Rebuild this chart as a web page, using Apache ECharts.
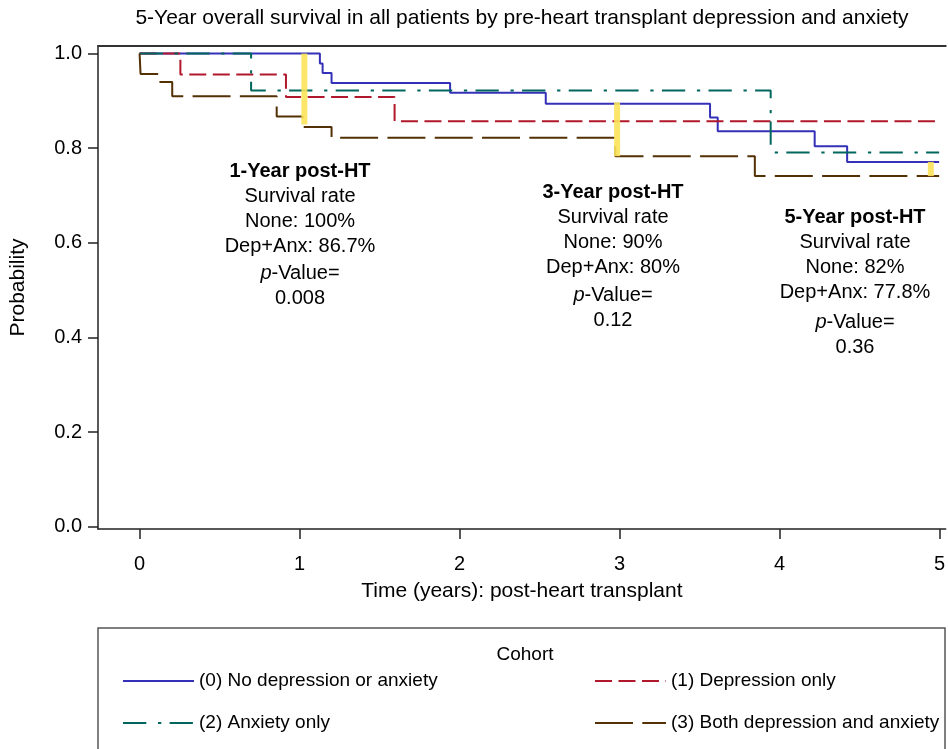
<!DOCTYPE html>
<html>
<head>
<meta charset="utf-8">
<script src="https://cdn.jsdelivr.net/npm/echarts@6/dist/echarts.min.js"></script>
<style>
  html, body { margin: 0; padding: 0; background: #fff; }
  #main { width: 948px; height: 749px; }
</style>
</head>
<body>
<div id="main"></div>
<script>
// Kaplan-Meier curves: [time (years), survival probability]
var cohortNames = ['(0) No depression or anxiety', '(1) Depression only', '(2) Anxiety only', '(3) Both depression and anxiety'];
var noneCurve = [[0, 1], [1.127, 0.979], [1.144, 0.959], [1.2, 0.938], [1.941, 0.917], [2.539, 0.894],
	[3.566, 0.865], [3.614, 0.836], [4.22, 0.804], [4.423, 0.771], [4.998, 0.771]];
var depCurve = [[0, 1], [0.255, 0.956], [0.915, 0.908], [1.594, 0.857], [4.998, 0.857]];
var anxCurve = [[0, 1], [0.697, 0.922], [3.945, 0.791], [4.998, 0.791]];
var bothCurve = [[0, 1], [0.006, 0.957], [0.12, 0.94], [0.204, 0.91], [0.857, 0.867], [1.02, 0.845],
	[1.2, 0.822], [2.974, 0.783], [3.846, 0.741], [4.998, 0.741]];

var xTicks = [0, 1, 2, 3, 4, 5];
var yTicks = [0, 0.2, 0.4, 0.6, 0.8, 1.0];

// 黄色标记 (1/3/5 年)
var markTimes = [1.03, 2.985, 4.946];
var markTop = [1.0, 0.897, 0.771];
var markBottom = [0.85, 0.783, 0.741];

// 注释文字
var noteHeads = ['1-Year post-HT', '3-Year post-HT', '5-Year post-HT'];
var noteNone = ['100%', '90%', '82%'];
var noteBoth = ['86.7%', '80%', '77.8%'];
var notePValues = ['0.008', '0.12', '0.36'];

var FONT = 'Liberation Sans, Arial, Helvetica, sans-serif';
var fontSize = 20;
var xMin = -0.26, xMax = 5.039;

var dom = document.getElementById('main');
var myChart = echarts.init(dom);

function kmSeries(name, data, color, dash) {
	return {
		name: name,
		type: 'line',
		step: 'end',
		data: data,
		symbol: 'none',
		lineStyle: { color: color, width: 2, type: dash },
		itemStyle: { color: color },
		z: 2
	};
}

// 注释位置 (像素)
var notePos = [[300, 159, 261], [613, 180, 283], [855, 205, 310]];
var notes = [];
for (var i = 0; i < noteHeads.length; i++) {
	notes.push({
		type: 'text',
		x: notePos[i][0],
		y: notePos[i][1],
		style: {
			text: '{b|' + noteHeads[i] + '}\n{n|Survival rate}\n{n|None: ' + noteNone[i] + '}\n{n|Dep+Anx: ' + noteBoth[i] + '}',
			align: 'center',
			verticalAlign: 'top',
			fill: '#000',
			rich: {
				b: { fontFamily: FONT, fontSize: fontSize, fontWeight: 'bold', lineHeight: 25, align: 'center' },
				n: { fontFamily: FONT, fontSize: fontSize, lineHeight: 25, align: 'center' }
			}
		}
	});
	notes.push({
		type: 'text',
		x: notePos[i][0],
		y: notePos[i][2],
		style: {
			text: '{i|p}{n|-Value=}\n{n|' + notePValues[i] + '}',
			align: 'center',
			verticalAlign: 'top',
			fill: '#000',
			rich: {
				i: { fontFamily: FONT, fontSize: fontSize, fontStyle: 'italic', lineHeight: 25 },
				n: { fontFamily: FONT, fontSize: fontSize, lineHeight: 25 }
			}
		}
	});
}

var legendText = { fontFamily: FONT, fontSize: 19, color: '#000', lineHeight: 20 };

var option = {
	animation: false,
	backgroundColor: '#fff',
	grid: {
		left: 97,
		right: 0,
		top: 46,
		bottom: 220
	},
	xAxis: [{
		type: 'value',
		min: xMin,
		max: xMax,
		name: 'Time (years): post-heart transplant',
		nameLocation: 'middle',
		nameGap: 52,
		nameTextStyle: { fontFamily: FONT, fontSize: 21, color: '#000' },
		axisLine: { onZero: false, lineStyle: { color: '#222', width: 1.5 } },
		axisTick: { customValues: xTicks, length: 10, lineStyle: { color: '#222', width: 1.5 } },
		axisLabel: { customValues: xTicks, margin: 25, fontFamily: FONT, fontSize: fontSize, color: '#000' },
		splitLine: { show: false }
	}, {
		// 上边框
		type: 'value',
		position: 'top',
		min: xMin,
		max: xMax,
		axisLine: { onZero: false, lineStyle: { color: '#333', width: 2 } },
		axisTick: { show: false },
		axisLabel: { show: false },
		splitLine: { show: false }
	}],
	yAxis: {
		type: 'value',
		min: -0.005,
		max: 1.016,
		name: 'Probability',
		nameLocation: 'middle',
		nameGap: 69,
		nameTextStyle: { fontFamily: FONT, fontSize: 21, color: '#000' },
		axisLine: { show: true, onZero: false, lineStyle: { color: '#222', width: 1.5 } },
		axisTick: { show: true, customValues: yTicks, length: 10, lineStyle: { color: '#222', width: 1.5 } },
		axisLabel: {
			customValues: yTicks, margin: 16, fontFamily: FONT, fontSize: fontSize, color: '#000',
			formatter: function(v) { return v.toFixed(1); }
		},
		splitLine: { show: false }
	},
	legend: [{
		data: [cohortNames[0], cohortNames[2]],
		orient: 'vertical',
		left: 117,
		top: 666,
		itemWidth: 71,
		itemHeight: 20,
		itemGap: 22,
		selectedMode: false,
		itemStyle: { opacity: 0 },
		textStyle: legendText
	}, {
		data: [cohortNames[1], cohortNames[3]],
		orient: 'vertical',
		left: 589,
		top: 666,
		itemWidth: 71,
		itemHeight: 20,
		itemGap: 22,
		selectedMode: false,
		itemStyle: { opacity: 0 },
		textStyle: legendText
	}],
	graphic: [{
		type: 'text',
		x: 522,
		y: 18,
		style: {
			text: '5-Year overall survival in all patients by pre-heart transplant depression and anxiety',
			align: 'center', verticalAlign: 'middle',
			fontFamily: FONT, fontSize: 21, fill: '#000'
		}
	}, {
		type: 'rect',
		shape: { x: 98, y: 628, width: 847, height: 140 },
		style: { fill: 'none', stroke: '#555', lineWidth: 1.5 }
	}, {
		type: 'text',
		x: 525,
		y: 655,
		style: {
			text: 'Cohort', align: 'center', verticalAlign: 'middle',
			fontFamily: FONT, fontSize: 19, fill: '#000'
		}
	}].concat(notes),
	series: [
		kmSeries(cohortNames[0], noneCurve, '#3430b8', 'solid'),
		kmSeries(cohortNames[1], depCurve, '#b2182b', [17, 6.5]),
		kmSeries(cohortNames[2], anxCurve, '#01665e', [23.3, 11.7, 3.3, 8.3]),
		kmSeries(cohortNames[3], bothCurve, '#543005', [38, 9.3]),
		{
			type: 'custom',
			name: 'marks',
			silent: true,
			z: 3,
			encode: { x: 0, y: [1, 2] },
			data: markTimes.map(function(t, i) { return [t, markTop[i], markBottom[i]]; }),
			renderItem: function(params, api) {
				var p1 = api.coord([api.value(0), api.value(1)]);
				var p2 = api.coord([api.value(0), api.value(2)]);
				return {
					type: 'rect',
					shape: { x: p1[0] - 3, y: p1[1], width: 6, height: p2[1] - p1[1] },
					style: { fill: '#fbe35a', opacity: 0.9 }
				};
			}
		}
	]
};

myChart.setOption(option);
</script>
</body>
</html>
